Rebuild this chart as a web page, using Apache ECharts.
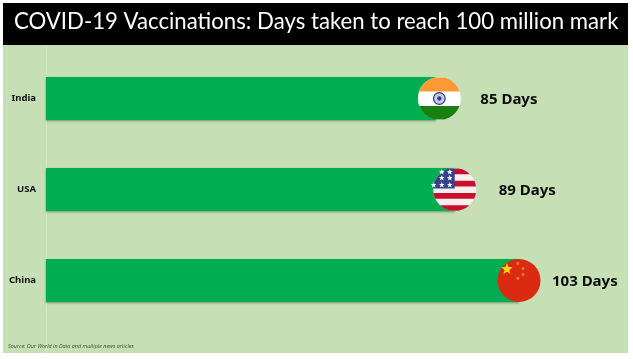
<!DOCTYPE html>
<html><head><meta charset="utf-8">
<style>html,body{margin:0;padding:0;background:#fff}#c{width:633px;height:359px}</style>
<script src="https://cdn.jsdelivr.net/npm/echarts@6/dist/echarts.min.js"></script>
</head><body><div id="c"></div>
<script>
const titleText = 'COVID-19 Vaccinations: Days taken to reach 100 million mark';
const sourceText = 'Source: Our World in Data and multiple news articles';
const categories = ['India', 'USA', 'China'];
const days = [85, 89, 103];
const flagNudge = [3, 0, 0];
const labelGap = [41, 44, 33];

function band(cx, cy, r, x0, x1, y0, y1) {
  const top = Math.max(y0, cy - r), bot = Math.min(y1, cy + r);
  const L = [], R = [];
  for (let i = 0; i <= 24; i++) {
    const y = top + (bot - top) * i / 24;
    const w = Math.sqrt(Math.max(0, r * r - (y - cy) * (y - cy)));
    const a = Math.max(x0, cx - w), b = Math.min(x1, cx + w);
    if (b > a) { L.push([a, y]); R.unshift([b, y]); }
  }
  return L.concat(R);
}
function poly(points, fill, extra) {
  return Object.assign({ type: 'polygon', shape: { points }, style: { fill } }, extra || {});
}
function star(cx, cy, R, fill) {
  const p = [];
  for (let i = 0; i < 10; i++) {
    const a = -Math.PI / 2 + i * Math.PI / 5, q = i % 2 ? R * 0.42 : R;
    p.push([cx + q * Math.cos(a), cy + q * Math.sin(a)]);
  }
  return poly(p, fill);
}
function flag(idx, cx, cy, r) {
  const kids = [];
  const base = c => ({ type: 'circle', shape: { cx, cy, r }, style: { fill: c } });
  if (idx === 0) {
    kids.push(base('#ffffff'));
    kids.push(poly(band(cx, cy, r, -1e4, 1e4, cy - r, cy - r * 0.33), '#fb9a35'));
    kids.push(poly(band(cx, cy, r, -1e4, 1e4, cy + r * 0.35, cy + r), '#19800f'));
    kids.push({ type: 'circle', shape: { cx, cy, r: r * 0.27 }, style: { fill: '#c9c9e2', stroke: '#2d3a8c', lineWidth: 1.2 } });
    kids.push({ type: 'circle', shape: { cx, cy, r: r * 0.1 }, style: { fill: '#2d3a8c' } });
  } else if (idx === 1) {
    kids.push(base('#f7eeee'));
    const h = 2 * r / 7;
    [0, 2, 4, 6].forEach(i => {
      kids.push(poly(band(cx, cy, r, -1e4, 1e4, cy - r + i * h + 0.4, cy - r + (i + 1) * h), '#c8102e'));
    });
    kids.push(poly(band(cx, cy, r, -1e4, cx, cy - r, cy - 1), '#33428f'));
    [[-0.6, -0.81], [-0.23, -0.81], [-0.6, -0.53], [-0.23, -0.53], [-0.98, -0.21], [-0.6, -0.21], [-0.23, -0.21]]
      .forEach(s => kids.push(star(cx + s[0] * r, cy + s[1] * r, 3, '#ffffff')));
  } else {
    kids.push(base('#db2a12'));
    kids.push(star(cx - r * 0.56, cy - r * 0.53, 6, '#fbd21e'));
    [[-0.05, -0.8], [0.19, -0.56], [0.19, -0.28], [-0.05, -0.1]].forEach(s => {
      kids.push(star(cx + s[0] * r, cy + s[1] * r, 2.2, '#eb8a2a'));
    });
  }
  return { type: 'group', children: kids };
}

const chart = echarts.init(document.getElementById('c'), null, { renderer: 'canvas' });
chart.setOption({
  backgroundColor: '#ffffff',
  animation: false,
  graphic: [
    { type: 'rect', z: -10, silent: true, shape: { x: 3, y: 3, width: 625, height: 350 }, style: { fill: '#c6dfb5' } },
    { type: 'rect', z: -9, silent: true, shape: { x: 3, y: 3, width: 625, height: 42 }, style: { fill: '#000000' } },
    { type: 'rect', z: -9, silent: true, shape: { x: 46, y: 46, width: 1, height: 307 }, style: { fill: '#d3e7c6' } },
    { type: 'text', z: 5, silent: true, left: 14, top: 11, style: { text: titleText, fill: '#ffffff', font: '400 22.2px Lato' } },
    { type: 'text', z: 5, silent: true, left: 8, top: 344, style: { text: sourceText, fill: '#3a4a38', font: 'italic 5.4px "Open Sans"' } }
  ],
  grid: { left: 46, right: 633 - 519, top: 53, bottom: 359 - 326 },
  xAxis: { type: 'value', min: 0, max: 103, show: false },
  yAxis: {
    type: 'category', data: categories, inverse: true,
    axisLine: { show: false }, axisTick: { show: false }, splitLine: { show: false },
    axisLabel: { color: '#111', fontFamily: 'Noto Sans', fontWeight: 'bold', fontSize: 9.5, margin: 10 }
  },
  series: [
    {
      type: 'bar', data: days, barWidth: 43, z: 2,
      itemStyle: { color: '#00ad50', shadowColor: 'rgba(40,90,40,0.55)', shadowBlur: 2, shadowOffsetY: 1 }
    },
    {
      type: 'custom', z: 3, data: days.map((d, i) => [d, i]), encode: { x: 0, y: 1 },
      clip: false,
      renderItem(params, api) {
        const i = params.dataIndex;
        const p = api.coord([api.value(0), i]);
        const cx = p[0] + flagNudge[i], cy = p[1], r = 21.5;
        return {
          type: 'group',
          children: [
            flag(i, cx, cy, r),
            { type: 'text', style: {
                x: cx + labelGap[i], y: cy + 1.5, text: api.value(0) + ' Days',
                fill: '#0a0a0a', font: 'bold 15px "Noto Sans"', textAlign: 'left', textVerticalAlign: 'middle' } }
          ]
        };
      }
    }
  ]
});
</script></body></html>
